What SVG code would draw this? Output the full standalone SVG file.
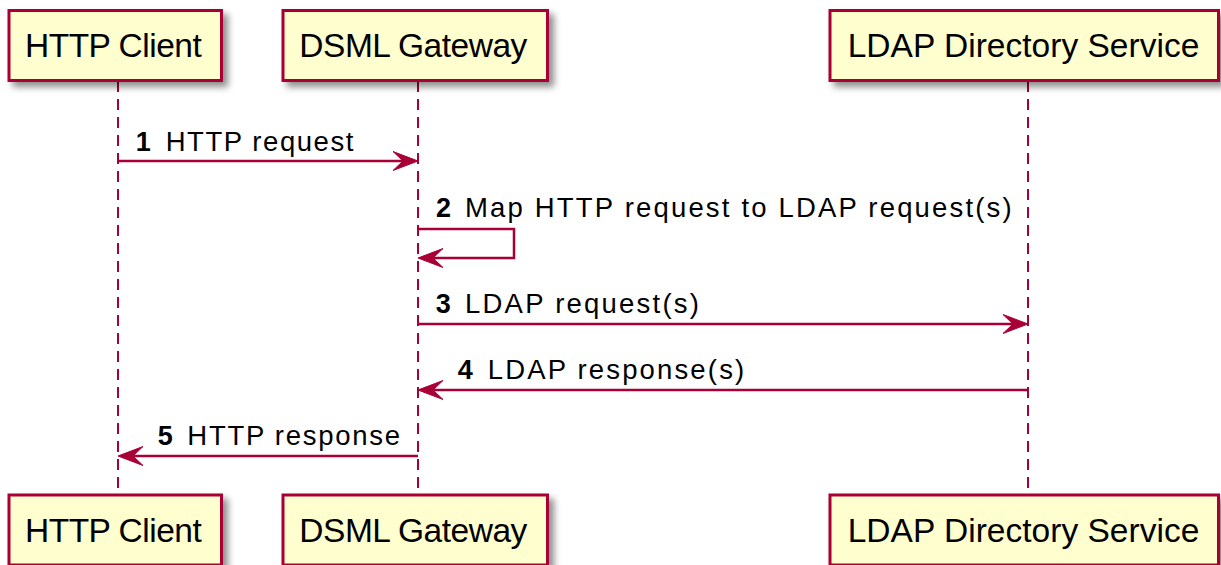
<svg xmlns="http://www.w3.org/2000/svg" width="1221" height="565" viewBox="0 0 1221 565">
<style>
.box{fill:#FEFECE;stroke:#A80036;stroke-width:3}
.life{stroke:#A80036;stroke-width:2;stroke-dasharray:11,7;fill:none}
.msg{stroke:#A80036;stroke-width:2.5;fill:none}
.head{fill:#A80036;stroke:#A80036;stroke-width:1}
.pt{font-family:"Liberation Sans",Arial,sans-serif;font-size:33.5px;fill:#000}
.mt{font-family:"Liberation Sans",Arial,sans-serif;font-size:27.5px;fill:#000}
.num{font-family:"Liberation Sans",Arial,sans-serif;font-size:27px;font-weight:bold;fill:#000}
</style>
<defs>
<filter id="sh" x="-10%" y="-20%" width="130%" height="160%">
<feGaussianBlur in="SourceAlpha" stdDeviation="3.5"/>
<feOffset dx="5" dy="5" result="b"/>
<feComponentTransfer><feFuncA type="linear" slope="0.45"/></feComponentTransfer>
<feMerge><feMergeNode/><feMergeNode in="SourceGraphic"/></feMerge>
</filter>
</defs>
<g id="lifelines">
<line class="life" x1="118" y1="81" x2="118" y2="495"/>
<line class="life" x1="418" y1="81" x2="418" y2="495"/>
<line class="life" x1="1028" y1="81" x2="1028" y2="495"/>
</g>
<g id="participant-http-client">
<rect class="box" filter="url(#sh)" x="9" y="10.5" width="212.5" height="70"/>
<text class="pt" x="25" y="57" textLength="176.7" lengthAdjust="spacing">HTTP Client</text>
</g>
<g id="participant-dsml-gateway">
<rect class="box" filter="url(#sh)" x="283" y="10.5" width="264.5" height="70"/>
<text class="pt" x="299.3" y="57" textLength="228" lengthAdjust="spacing">DSML Gateway</text>
</g>
<g id="participant-ldap">
<rect class="box" filter="url(#sh)" x="830" y="10.5" width="388.5" height="70"/>
<text class="pt" x="847.7" y="57" textLength="351.6" lengthAdjust="spacing">LDAP Directory Service</text>
</g>
<g id="participant-http-client-bottom">
<rect class="box" filter="url(#sh)" x="9" y="495" width="212.5" height="70"/>
<text class="pt" x="25" y="541.5" textLength="176.7" lengthAdjust="spacing">HTTP Client</text>
</g>
<g id="participant-dsml-gateway-bottom">
<rect class="box" filter="url(#sh)" x="283" y="495" width="264.5" height="70"/>
<text class="pt" x="299.3" y="541.5" textLength="228" lengthAdjust="spacing">DSML Gateway</text>
</g>
<g id="participant-ldap-bottom">
<rect class="box" filter="url(#sh)" x="830" y="495" width="388.5" height="70"/>
<text class="pt" x="847.7" y="541.5" textLength="351.6" lengthAdjust="spacing">LDAP Directory Service</text>
</g>
<g id="connectors">
<line class="msg" x1="118" y1="161" x2="414" y2="161"/>
<polygon class="head" points="418,161 393,151.5 403,161 393,170.5"/>
<polyline class="msg" points="418,229 514,229 514,258 422,258"/>
<polygon class="head" points="418,258 443,248.5 433,258 443,267.5"/>
<line class="msg" x1="418" y1="324" x2="1024" y2="324"/>
<polygon class="head" points="1028,324 1003,314.5 1013,324 1003,333.5"/>
<line class="msg" x1="1028" y1="390" x2="422" y2="390"/>
<polygon class="head" points="418,390 443,380.5 433,390 443,399.5"/>
<line class="msg" x1="418" y1="456" x2="122" y2="456"/>
<polygon class="head" points="118,456 143,446.5 133,456 143,465.5"/>
</g>
<g id="labels">
<text class="num" x="135.7" y="151">1</text>
<text class="mt" x="165.7" y="151" textLength="187.6" lengthAdjust="spacing">HTTP request</text>
<text class="num" x="436" y="217">2</text>
<text class="mt" x="465" y="217" textLength="546.7" lengthAdjust="spacing">Map HTTP request to LDAP request(s)</text>
<text class="num" x="435.7" y="312.5">3</text>
<text class="mt" x="465" y="312.5" textLength="234" lengthAdjust="spacing">LDAP request(s)</text>
<text class="num" x="457.7" y="379">4</text>
<text class="mt" x="487.7" y="379" textLength="256.5" lengthAdjust="spacing">LDAP response(s)</text>
<text class="num" x="157.7" y="445">5</text>
<text class="mt" x="187.3" y="445" textLength="212.7" lengthAdjust="spacing">HTTP response</text>
</g>
</svg>
